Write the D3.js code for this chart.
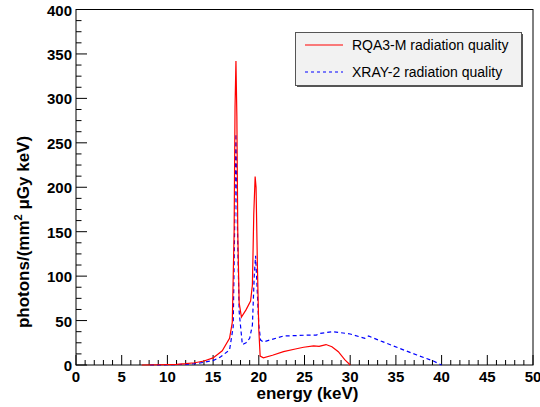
<!DOCTYPE html>
<meta charset="utf-8">
<script src="https://d3js.org/d3.v7.min.js"></script>
<style>
  body { margin: 0; background: #fff; }
  text { font-family: "Liberation Sans", Arial, sans-serif; }
</style>
<div id="chart"></div>
<script>
// RQA3-M spectrum (energy keV, photons/(mm2 uGy keV))
const rqaEnergy = [7.2, 9, 11, 12, 13, 14, 15, 16, 16.8, 17.1, 17.3, 17.4, 17.5, 17.6, 17.7, 17.85, 18.1, 18.6, 19.1, 19.3, 19.45, 19.6, 19.7, 19.85, 20.0, 20.15, 20.5, 21.5, 22.7, 24, 24.9, 26, 26.6, 27.35, 28, 28.7, 29.4, 30];
const rqaValue  = [0, 0.3, 0.8, 1.5, 2.5, 4.5, 8, 16, 30, 48, 150, 290, 342, 280, 150, 70, 54, 62, 72, 90, 170, 212, 200, 110, 40, 10, 8, 11, 15, 18, 20, 21.5, 21, 23, 20.5, 15, 6, 0];

// XRAY-2 spectrum
const xrayEnergy = [8.1, 10, 12, 13, 14, 15, 15.8, 16.8, 17.2, 17.35, 17.5, 17.65, 17.85, 18.2, 18.6, 19.0, 19.3, 19.5, 19.65, 19.8, 20.0, 20.2, 20.5, 22.7, 25, 26.3, 26.7, 28.15, 30, 31.6, 32, 33.6, 35.4, 37.3, 39.1, 40];
const xrayValue  = [0, 0.3, 0.8, 1.5, 3, 5, 9, 17, 43, 150, 260, 160, 60, 23, 25, 30, 45, 100, 123, 90, 45, 28, 26, 32.6, 33.5, 33.7, 35.6, 37.5, 34.9, 30, 32.6, 26, 18.7, 11.2, 4.5, 0];

const seriesNames = ["RQA3-M radiation quality", "XRAY-2 radiation quality"];
const xTicks = [0, 5, 10, 15, 20, 25, 30, 35, 40, 45, 50];
const yTicks = [0, 50, 100, 150, 200, 250, 300, 350, 400];

const W = 540, H = 407;
const padL = 76, padR = 533, padT = 9.5, padB = 365;

const svg = d3.select("#chart").append("svg")
  .attr("width", W).attr("height", H);

const x = d3.scaleLinear().domain([0, 50]).range([padL, padR]);
const y = d3.scaleLinear().domain([0, 400]).range([padB, padT]);

// frame
svg.append("rect")
  .attr("x", padL).attr("y", padT)
  .attr("width", padR - padL).attr("height", padB - padT)
  .attr("fill", "none").attr("stroke", "#000").attr("stroke-width", 1);

// x ticks (inside, pointing up)
const xMinor = d3.range(0, 51, 1);
svg.append("g").selectAll("line")
  .data(xMinor)
  .join("line")
    .attr("x1", d => x(d)).attr("x2", d => x(d))
    .attr("y1", padB).attr("y2", d => padB - (d % 5 === 0 ? 10 : 5))
    .attr("stroke", "#000");

// y ticks (inside, pointing right)
const yMinor = d3.range(0, 401, 12.5);
svg.append("g").selectAll("line")
  .data(yMinor)
  .join("line")
    .attr("y1", d => y(d)).attr("y2", d => y(d))
    .attr("x1", padL).attr("x2", d => padL + (d % 50 === 0 ? 11 : 5.5))
    .attr("stroke", "#000");

// tick labels
svg.append("g").selectAll("text")
  .data(xTicks)
  .join("text")
    .attr("x", d => x(d)).attr("y", padB + 17)
    .attr("text-anchor", "middle")
    .attr("font-size", 15).attr("font-weight", "bold")
    .text(d => d);

svg.append("g").selectAll("text")
  .data(yTicks)
  .join("text")
    .attr("x", padL - 4).attr("y", d => y(d) + 6)
    .attr("text-anchor", "end")
    .attr("font-size", 15).attr("font-weight", "bold")
    .text(d => d);

// axis titles
svg.append("text")
  .attr("x", (padL + padR) / 2 + 3).attr("y", 399)
  .attr("text-anchor", "middle")
  .attr("font-size", 17).attr("font-weight", "bold")
  .text("energy (keV)");

const yt = svg.append("text")
  .attr("transform", "translate(29,232) rotate(-90)")
  .attr("text-anchor", "middle")
  .attr("font-size", 17).attr("font-weight", "bold");
yt.append("tspan").text("photons/(mm");
yt.append("tspan").attr("dy", -7).attr("font-size", 11).text("2");
yt.append("tspan").attr("dy", 7).text(" \u03BCGy keV)");

// curves
const line = d3.line().x(d => x(d[0])).y(d => y(d[1]));

svg.append("path")
  .datum(xrayEnergy.map((e, i) => [e, xrayValue[i]]))
  .attr("d", line)
  .attr("fill", "none").attr("stroke", "#0000ff")
  .attr("stroke-width", 1.2).attr("stroke-dasharray", "4,3");

svg.append("path")
  .datum(rqaEnergy.map((e, i) => [e, rqaValue[i]]))
  .attr("d", line)
  .attr("fill", "none").attr("stroke", "#ff0000")
  .attr("stroke-width", 1.2);

// legend
const lg = svg.append("g");
lg.append("rect")
  .attr("x", 297).attr("y", 34).attr("width", 226).attr("height", 53)
  .attr("fill", "#555");
lg.append("rect")
  .attr("x", 295.5).attr("y", 32.5).attr("width", 226).attr("height", 53)
  .attr("fill", "#f2f2f2").attr("stroke", "#555");

const legendStyle = [
  {color: "#ff0000", dash: "none", yy: 45},
  {color: "#0000ff", dash: "3,3", yy: 72}
];
legendStyle.forEach((s, i) => {
  lg.append("line")
    .attr("x1", 305).attr("x2", 343).attr("y1", s.yy).attr("y2", s.yy)
    .style("stroke", s.color).style("stroke-width", 1.2)
    .style("stroke-dasharray", s.dash);
  lg.append("text")
    .attr("x", 352).attr("y", s.yy + 5)
    .attr("font-size", 14)
    .text(seriesNames[i]);
});
</script>
